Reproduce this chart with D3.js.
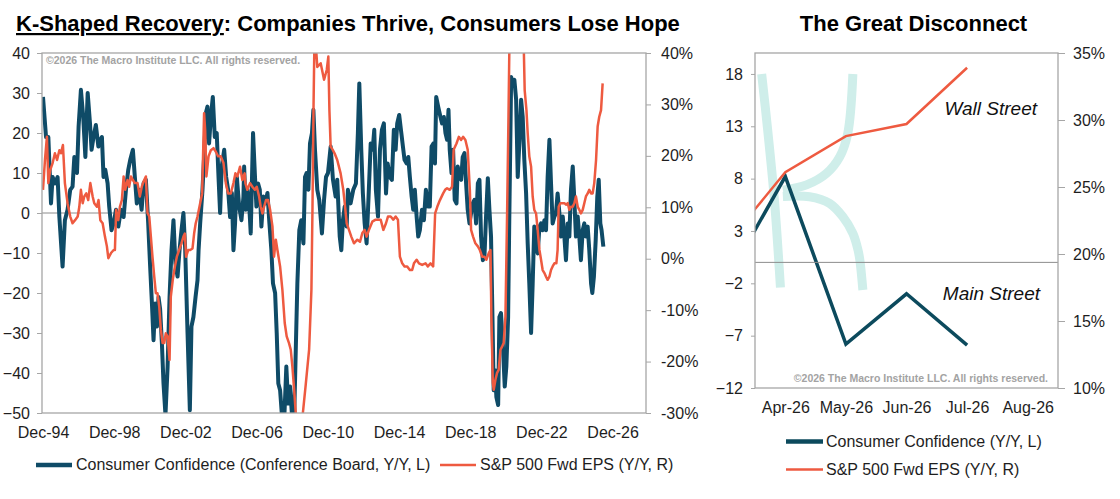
<!DOCTYPE html>
<html lang="en">
<head>
<meta charset="utf-8">
<title>K-Shaped Recovery</title>
<script src="https://d3js.org/d3.v7.min.js"></script>
<style>
  body { margin: 0; background: #fff; }
  svg text { font-family: "Liberation Sans", Arial, sans-serif; }
</style>
</head>
<body>
<div id="chart"></div>
<script>
"use strict"

// ---- left chart: decimal year, value ----
var ccPoints = [
  [1994.92,29],[1995.09,19],[1995.22,19],[1995.37,2.4],[1995.46,9],[1995.59,7.4],[1995.74,9],[1995.84,-1],
  [1996.02,-13.4],[1996.15,-1.8],[1996.3,0.8],[1996.45,5.8],[1996.58,6.6],[1996.68,14],[1996.83,10],[1996.92,21.6],
  [1997.05,30.8],[1997.18,24],[1997.3,14],[1997.43,30],[1997.56,22.4],[1997.65,15.8],[1997.76,19],[1997.89,22],
  [1998.03,16.6],[1998.14,18.3],[1998.23,19],[1998.32,9],[1998.42,10.8],[1998.55,7.4],[1998.64,1.6],[1998.77,-4.3],
  [1998.89,-2.6],[1999.02,0.8],[1999.15,-3.4],[1999.3,0.8],[1999.45,-1],[1999.58,5.8],[1999.71,10.8],[1999.82,13.3],
  [1999.97,15.8],[2000.08,9],[2000.19,2.4],[2000.32,5.8],[2000.46,0.8],[2000.57,7.4],[2000.7,8.3],[2000.83,-2.6],
  [2000.94,-13.4],[2001.04,-22.6],[2001.13,-31.8],[2001.22,-22.6],[2001.32,-28.4],[2001.41,-21],[2001.5,-24],[2001.6,-32.6],
  [2001.69,-42.6],[2001.8,-50.5],[2001.92,-38.4],[2002.03,-21],[2002.14,-9.3],[2002.25,-1.8],[2002.36,-12.6],[2002.48,-15.9],
  [2002.59,-9.3],[2002.7,-4.3],[2002.81,0],[2002.91,-9.3],[2003.04,-30],[2003.17,-49.3],[2003.26,-28.4],[2003.37,-26],
  [2003.49,-21],[2003.6,-16.8],[2003.66,-9.3],[2003.75,-2.6],[2003.88,5.8],[2003.97,14],[2004.07,25],[2004.16,26.6],
  [2004.25,17.4],[2004.35,24],[2004.46,29],[2004.57,19],[2004.68,20],[2004.78,9],[2004.87,0],[2004.96,11.6],
  [2005.1,15.8],[2005.21,9],[2005.32,5.8],[2005.43,-1],[2005.53,5],[2005.62,-9.3],[2005.71,-2.6],[2005.81,9],
  [2005.94,1.6],[2006.07,-1.8],[2006.18,4],[2006.22,11.6],[2006.31,0.8],[2006.4,5.8],[2006.5,2.4],[2006.59,-5.1],
  [2006.72,20],[2006.82,10],[2006.91,1.6],[2007.0,7.4],[2007.1,5.8],[2007.19,-3.4],[2007.3,4.1],[2007.41,2.4],
  [2007.53,5],[2007.64,-2.6],[2007.75,-9.3],[2007.84,-17.6],[2007.96,-20],[2008.05,-30],[2008.14,-42.6],[2008.24,-44.3],
  [2008.35,-51],[2008.46,-53],[2008.59,-38.4],[2008.69,-47.6],[2008.8,-43.4],[2008.93,-52],[2009.02,-53],[2009.12,-34.3],
  [2009.21,-17.6],[2009.32,-4.3],[2009.43,-1.8],[2009.55,-7.6],[2009.64,9],[2009.73,10],[2009.83,5.8],[2009.92,17.4],
  [2010.03,20],[2010.11,25.8],[2010.2,15.8],[2010.33,5.8],[2010.44,3.3],[2010.59,-5.1],[2010.71,3.3],[2010.82,9],
  [2010.93,10],[2011.08,16.6],[2011.21,8.3],[2011.36,4.1],[2011.45,8.3],[2011.59,-5.9],[2011.68,-9.3],[2011.77,-1.8],
  [2011.87,1.6],[2011.98,-3.4],[2012.05,5.8],[2012.2,2.4],[2012.35,5.8],[2012.5,7.4],[2012.61,20],[2012.69,32.4],
  [2012.8,15.8],[2012.89,4.9],[2012.99,-2.6],[2013.1,-7.6],[2013.21,4.1],[2013.33,17.4],[2013.44,15.8],[2013.53,20.8],
  [2013.62,5.8],[2013.74,-0.9],[2013.85,15.8],[2013.96,20.8],[2014.07,22.4],[2014.19,4.9],[2014.28,12.4],[2014.41,9],
  [2014.52,8.3],[2014.63,20.8],[2014.73,15.8],[2014.82,22.4],[2014.93,24.5],[2015.05,20],[2015.14,16.6],[2015.23,13.3],
  [2015.35,12.4],[2015.44,14],[2015.53,9],[2015.63,4.1],[2015.72,0.8],[2015.81,5.8],[2015.91,-0.9],[2016.0,-5.9],
  [2016.09,-4.3],[2016.21,0.8],[2016.32,-1.8],[2016.43,5.8],[2016.54,1.6],[2016.65,1.6],[2016.75,16.6],[2016.86,17.4],
  [2016.94,12.4],[2017.01,29],[2017.12,26.6],[2017.25,24],[2017.34,22.4],[2017.44,24],[2017.53,20],[2017.62,18.3],
  [2017.7,25.8],[2017.77,15.8],[2017.87,10],[2017.96,15.8],[2018.05,3.3],[2018.15,2.4],[2018.22,11.6],[2018.32,9],
  [2018.41,8.3],[2018.5,14],[2018.6,15],[2018.69,7.4],[2018.78,0.8],[2018.88,-2.6],[2018.97,0],[2019.06,2.4],
  [2019.16,3.3],[2019.25,-2.6],[2019.35,7.4],[2019.44,8.3],[2019.53,-5.9],[2019.63,-11.8],[2019.72,-10.9],[2019.81,-0.9],
  [2019.91,8.7],[2020.0,0.8],[2020.09,-5.9],[2020.17,-26],[2020.24,-44.3],[2020.32,-39.3],[2020.39,-46],[2020.49,-48],
  [2020.56,-26],[2020.65,-25],[2020.75,-32.6],[2020.86,-43.4],[2020.95,-38.4],[2021.05,-26],[2021.12,0],[2021.22,34],
  [2021.31,32.4],[2021.4,33.3],[2021.5,28.3],[2021.59,9],[2021.68,17.4],[2021.78,28.3],[2021.87,24],[2021.96,13.3],
  [2022.06,4.9],[2022.15,-7.6],[2022.24,-17.6],[2022.34,-30],[2022.43,-17.6],[2022.52,-3.4],[2022.62,-5.9],[2022.71,-10.1],
  [2022.81,-3.4],[2022.9,-2.6],[2022.99,-4.3],[2023.09,-1.8],[2023.18,-4.3],[2023.27,9],[2023.37,18.3],[2023.46,7.4],
  [2023.55,-2.6],[2023.65,-0.9],[2023.74,0],[2023.83,4.9],[2023.93,0],[2024.02,-5.9],[2024.12,-0.9],[2024.21,-5.9],
  [2024.3,-11.8],[2024.4,-2.6],[2024.49,-5.9],[2024.58,5.8],[2024.68,11.6],[2024.77,3.3],[2024.86,-5.9],[2024.96,-0.9],
  [2025.05,-5.9],[2025.14,-11.8],[2025.24,-4.3],[2025.33,-2.6],[2025.42,-5.9],[2025.52,-3.4],[2025.61,-9.3],[2025.71,-17.6],
  [2025.78,-20],[2025.87,-15.9],[2025.97,-6.8],[2026.06,4.1],[2026.14,8.3],[2026.23,-2.6],[2026.3,-4.3],[2026.4,-8.4]
];

var epsPoints = [
  [1994.92,13.4],[1995.03,19.2],[1995.14,23.7],[1995.22,14.7],[1995.33,17.3],[1995.46,18.6],[1995.59,20.5],[1995.71,19.2],
  [1995.84,21.1],[1995.93,20.5],[1996.04,22.1],[1996.15,14.7],[1996.3,10.8],[1996.45,8.2],[1996.58,6.9],[1996.72,7.5],
  [1996.87,8.2],[1996.96,10.1],[1997.05,13.4],[1997.15,10.8],[1997.24,12.1],[1997.35,12.7],[1997.46,11.4],[1997.58,14.7],
  [1997.71,12.1],[1997.8,10.8],[1997.95,10.1],[1998.04,11.4],[1998.14,7.5],[1998.27,6.9],[1998.4,4.3],[1998.51,2.4],
  [1998.59,0.1],[1998.74,1.1],[1998.89,1.7],[1998.96,1.7],[1999.03,9.5],[1999.15,7.5],[1999.24,10.1],[1999.35,11.4],
  [1999.45,16],[1999.54,13.4],[1999.67,15.3],[1999.76,14],[1999.86,16],[1999.97,15.3],[2000.08,14.7],[2000.23,14.7],
  [2000.36,12.1],[2000.47,14],[2000.57,15],[2000.7,16],[2000.79,8.9],[2000.89,8.2],[2000.98,4.3],[2001.07,0.4],
  [2001.17,-3.5],[2001.26,-6.7],[2001.35,-6.7],[2001.45,-9.3],[2001.54,-13.8],[2001.64,-16.4],[2001.73,-16.4],[2001.82,-14.5],
  [2001.92,-15.1],[2002.03,-19.7],[2002.1,-7.4],[2002.21,-4.1],[2002.33,-1.5],[2002.44,0.4],[2002.57,1.7],[2002.7,3],
  [2002.81,4.3],[2002.89,4.9],[2002.96,0.4],[2003.08,1.7],[2003.19,1.7],[2003.32,2],[2003.41,4.9],[2003.5,6.9],
  [2003.6,8.2],[2003.75,10.8],[2003.86,12.7],[2003.97,28.3],[2004.03,25],[2004.1,16],[2004.22,19.9],[2004.35,21.1],
  [2004.5,21.5],[2004.63,20.8],[2004.76,19.9],[2004.91,19.9],[2005.06,18.6],[2005.19,14.7],[2005.32,12.7],[2005.47,12.7],
  [2005.62,14.7],[2005.73,16.6],[2005.84,16],[2005.99,17.9],[2006.12,15.3],[2006.25,16.6],[2006.29,14.7],[2006.4,13.4],
  [2006.55,14.7],[2006.68,14],[2006.82,13.4],[2006.93,14],[2007.06,12.1],[2007.15,10.1],[2007.25,8.8],[2007.34,10.1],
  [2007.45,11.4],[2007.56,11.4],[2007.68,9.5],[2007.81,6.3],[2007.9,0.4],[2008.0,3.7],[2008.09,1.7],[2008.24,-1.5],
  [2008.37,-6.1],[2008.5,-12.5],[2008.61,-15.1],[2008.74,-16.4],[2008.84,-17.7],[2008.93,-21],[2009.02,-25],[2009.12,-30],
  [2009.3,-36],[2009.49,-31],[2009.68,-24.5],[2009.87,-17.7],[2010.0,-6],[2010.06,10],[2010.12,30],[2010.18,45],
  [2010.33,37.3],[2010.52,38],[2010.71,34.8],[2010.86,36.7],[2010.95,39.3],[2011.01,28.9],[2011.08,21.8],[2011.19,21.2],
  [2011.3,20.5],[2011.45,19.2],[2011.64,16.6],[2011.79,13.4],[2011.87,10.8],[2011.98,6.9],[2012.11,5.6],[2012.24,4.3],
  [2012.39,3],[2012.58,3.7],[2012.73,3.3],[2012.86,5],[2012.99,5.6],[2013.1,4.3],[2013.23,5.6],[2013.42,7.2],
  [2013.61,7.6],[2013.89,7.6],[2014.04,5.6],[2014.19,6.9],[2014.3,8.2],[2014.45,8.2],[2014.6,7.6],[2014.73,8.2],
  [2014.86,7.6],[2014.97,0.4],[2015.1,-0.9],[2015.23,-1.5],[2015.38,-1.5],[2015.53,-2.2],[2015.66,-2.2],[2015.76,-0.9],
  [2015.91,-0.2],[2016.04,-0.9],[2016.22,-1.2],[2016.41,-0.9],[2016.54,-1.5],[2016.69,-0.9],[2016.84,-1.5],[2016.95,8.8],
  [2017.07,10.1],[2017.22,11.4],[2017.4,12.7],[2017.51,13.4],[2017.62,13.7],[2017.77,13.4],[2017.9,14],[2017.99,21.2],
  [2018.15,22.4],[2018.28,23.7],[2018.41,23.1],[2018.52,23.7],[2018.65,23.1],[2018.78,21.2],[2018.9,13.4],[2018.97,5.6],
  [2019.08,4.3],[2019.21,3],[2019.35,2.4],[2019.46,1.7],[2019.59,0.4],[2019.72,0.4],[2019.83,-0.2],[2019.96,1.1],
  [2020.06,1.7],[2020.11,-11.2],[2020.19,-24.2],[2020.24,-25.5],[2020.34,-23.5],[2020.43,-22.2],[2020.52,-21.6],[2020.62,-17.7],
  [2020.71,-17.1],[2020.8,-16.4],[2020.9,-11.2],[2020.99,8.2],[2021.07,27.6],[2021.12,41],[2021.3,60],[2021.6,60],
  [2021.93,41],[2021.98,32.8],[2022.08,28.9],[2022.15,24.4],[2022.24,19.9],[2022.34,17.9],[2022.43,12.1],[2022.52,9.5],
  [2022.62,8.8],[2022.71,5.6],[2022.81,1.7],[2022.9,-0.2],[2022.99,-2.2],[2023.09,-2.8],[2023.18,-3.5],[2023.27,-4.1],
  [2023.37,-3.5],[2023.46,-2.2],[2023.55,-1.5],[2023.65,-0.9],[2023.76,-0.9],[2023.83,1.7],[2023.89,10.1],[2023.98,10.8],
  [2024.12,10.8],[2024.21,10.8],[2024.3,10.5],[2024.4,10.8],[2024.49,9.5],[2024.58,10.1],[2024.68,10.1],[2024.77,10.8],
  [2024.86,12.1],[2024.96,10.1],[2025.05,9.5],[2025.14,8.8],[2025.24,9.5],[2025.33,10.8],[2025.42,12.1],[2025.52,12.7],
  [2025.61,13.4],[2025.71,12.7],[2025.8,12.7],[2025.89,14.7],[2025.99,19.2],[2026.08,25.7],[2026.17,27.6],[2026.27,28.9],
  [2026.36,34.1]
];

var lcTickYears = [1994.92, 1998.92, 2002.92, 2006.92, 2010.92, 2014.92, 2018.92, 2022.92, 2026.92];
var lcTickLabels = ["Dec-94", "Dec-98", "Dec-02", "Dec-06", "Dec-10", "Dec-14", "Dec-18", "Dec-22", "Dec-26"];
var lcLeftTicks = [-50, -40, -30, -20, -10, 0, 10, 20, 30, 40];
var lcRightTicks = [-30, -20, -10, 0, 10, 20, 30, 40];

// ---- right chart ----
var rcMonths = ["Mar-26", "Apr-26", "May-26", "Jun-26", "Jul-26", "Aug-26"];
var rcTickLabels = ["Apr-26", "May-26", "Jun-26", "Jul-26", "Aug-26"];
var rcConfidence = [-2.0, 8.2, -7.8, -3.0, -7.9, null];
var rcEps = [20.6, 26.1, 28.8, 29.7, 33.9, null];
var rcLeftTicks = [-12, -7, -2, 3, 8, 13, 18];
var rcRightTicks = [10, 15, 20, 25, 30, 35];

// the pale "K" behind the right chart, in (month index, left value)
var kStem = [[0.61, 18], [0.71, 12.6], [0.82, 6], [0.92, -2.4]];
var kArmUp = [[2.115, 18], [2.03, 12.3], [1.9, 10.1], [1.68, 8.5], [1.35, 7.4], [0.96, 6.9]];
var kArmDown = [[0.96, 6.3], [1.4, 6.27], [1.73, 5.64], [1.95, 4.36], [2.115, 2.77], [2.2, 1.18], [2.23, 0.23], [2.28, -2.64]];

var blue = "#0f4b67", blueR = "#0c4a5d", red = "#ee5a40", ink = "#1e1e1e", frame = "#a6a6a6";

var svg = d3.select('#chart')
  .append('svg')
    .attr('width', 1120)
    .attr('height', 499);

function styleAxis(g) {
  g.select('.domain').remove();
  g.selectAll('line').attr('stroke', frame);
  g.selectAll('text')
    .attr('fill', ink)
    .style('font-size', '16px')
    .style('font-family', '"Liberation Sans", Arial, sans-serif');
}

// ================= left chart =================
var L = {left: 42, right: 646, top: 53, bottom: 413};

var x = d3.scaleLinear().domain([1994.864, 2028.796]).range([L.left, L.right]);
var yL = d3.scaleLinear().domain([-50, 40]).range([L.bottom, L.top]);
var yR = d3.scaleLinear().domain([-30, 40]).range([L.bottom, L.top]);

svg.append('text')
  .attr('x', 16).attr('y', 31)
  .attr('font-size', 22).attr('font-weight', 'bold').attr('fill', '#000')
  .call(t => {
    t.append('tspan').style('text-decoration', 'underline').text('K-Shaped Recovery');
    t.append('tspan').text(': Companies Thrive, Consumers Lose Hope');
  });

svg.append('clipPath').attr('id', 'clipL')
  .append('rect')
    .attr('x', L.left).attr('y', L.top)
    .attr('width', L.right - L.left).attr('height', L.bottom - L.top);

svg.append('line')
  .attr('x1', L.left).attr('x2', L.right)
  .attr('y1', yL(0)).attr('y2', yL(0))
  .attr('stroke', '#8c8c8c').attr('stroke-width', 1);

svg.append('g')
  .attr('transform', 'translate(' + L.left + ',0)')
  .call(d3.axisLeft(yL).tickValues(lcLeftTicks).tickSize(5).tickPadding(7))
  .call(styleAxis);

svg.append('g')
  .attr('transform', 'translate(' + L.right + ',0)')
  .call(d3.axisRight(yR).tickValues(lcRightTicks).tickSize(5).tickPadding(10).tickFormat(d => d + '%'))
  .call(styleAxis);

svg.append('g')
  .attr('transform', 'translate(0,' + L.bottom + ')')
  .call(d3.axisBottom(x).tickValues(lcTickYears).tickSize(0).tickPadding(14)
        .tickFormat((d, i) => lcTickLabels[i]))
  .call(styleAxis);

var plotL = svg.append('g').attr('clip-path', 'url(#clipL)');

plotL.append('path')
  .datum(ccPoints)
  .attr('fill', 'none')
  .attr('stroke', blue)
  .attr('stroke-width', 4)
  .attr('stroke-linejoin', 'round')
  .attr('d', d3.line().x(d => x(d[0])).y(d => yL(d[1])));

plotL.append('path')
  .datum(epsPoints)
  .attr('fill', 'none')
  .attr('stroke', red)
  .attr('stroke-width', 2.5)
  .attr('stroke-linejoin', 'round')
  .attr('d', d3.line().x(d => x(d[0])).y(d => yR(d[1])));

svg.append('rect')
  .attr('x', L.left).attr('y', L.top)
  .attr('width', L.right - L.left).attr('height', L.bottom - L.top)
  .attr('fill', 'none').attr('stroke', frame).attr('stroke-width', 1.3);

svg.append('text')
  .attr('x', L.left + 4).attr('y', L.top + 11)
  .attr('font-size', 10.5).attr('font-weight', 'bold').attr('fill', '#a3a3a3')
  .text('\u00a92026 The Macro Institute LLC. All rights reserved.');

// legend
var legL = svg.append('g').attr('font-size', 16).attr('fill', ink);
legL.append('line').attr('x1', 36).attr('x2', 72).attr('y1', 465).attr('y2', 465)
  .attr('stroke', blue).attr('stroke-width', 4.5);
legL.append('text').attr('x', 76).attr('y', 470)
  .text('Consumer Confidence (Conference Board, Y/Y, L)');
legL.append('line').attr('x1', 440).attr('x2', 476).attr('y1', 465).attr('y2', 465)
  .attr('stroke', red).attr('stroke-width', 2.5);
legL.append('text').attr('x', 480).attr('y', 470)
  .text('S&P 500 Fwd EPS (Y/Y, R)');

// ================= right chart =================
var R = {left: 755, right: 1058, top: 53, bottom: 388};
var step = (R.right - R.left) / rcTickLabels.length;

var xM = d3.scalePoint().domain(rcMonths).range([R.left - step / 2, R.right - step / 2]);
var xI = d3.scaleLinear().domain([0, rcMonths.length - 1]).range(xM.range());
var yRL = d3.scaleLinear().domain([-12, 20]).range([R.bottom, R.top]);
var yRR = d3.scaleLinear().domain([10, 35]).range([R.bottom, R.top]);

svg.append('text')
  .attr('x', (R.left + R.right) / 2 + 7).attr('y', 31)
  .attr('text-anchor', 'middle')
  .attr('font-size', 22).attr('font-weight', 'bold').attr('fill', '#000')
  .text('The Great Disconnect');

svg.append('clipPath').attr('id', 'clipR')
  .append('rect')
    .attr('x', R.left).attr('y', R.top)
    .attr('width', R.right - R.left).attr('height', R.bottom - R.top);

var plotR = svg.append('g').attr('clip-path', 'url(#clipR)');

var kLine = d3.line().curve(d3.curveCatmullRom).x(d => xI(d[0])).y(d => yRL(d[1]));
[kStem, kArmUp, kArmDown].forEach(function(k) {
  plotR.append('path')
    .attr('d', kLine(k))
    .attr('fill', 'none')
    .attr('stroke', '#cfeeea')
    .attr('stroke-width', 9);
});

svg.append('line')
  .attr('x1', R.left).attr('x2', R.right)
  .attr('y1', yRL(0)).attr('y2', yRL(0))
  .attr('stroke', '#8c8c8c').attr('stroke-width', 1);

svg.append('g')
  .attr('transform', 'translate(' + R.left + ',0)')
  .call(d3.axisLeft(yRL).tickValues(rcLeftTicks).tickSize(4).tickPadding(8))
  .call(styleAxis);

svg.append('g')
  .attr('transform', 'translate(' + R.right + ',0)')
  .call(d3.axisRight(yRR).tickValues(rcRightTicks).tickSize(7).tickPadding(8).tickFormat(d => d + '%'))
  .call(styleAxis);

svg.append('g')
  .attr('transform', 'translate(0,' + R.bottom + ')')
  .call(d3.axisBottom(xM).tickValues(rcTickLabels).tickSize(0).tickPadding(14))
  .call(styleAxis);

plotR.append('path')
  .datum(rcConfidence)
  .attr('fill', 'none')
  .attr('stroke', blueR)
  .attr('stroke-width', 3.5)
  .attr('d', d3.line().defined(d => d != null).x((d, i) => xM(rcMonths[i])).y(d => yRL(d)));

plotR.append('path')
  .datum(rcEps)
  .attr('fill', 'none')
  .attr('stroke', red)
  .attr('stroke-width', 2.5)
  .attr('d', d3.line().defined(d => d != null).x((d, i) => xM(rcMonths[i])).y(d => yRR(d)));

svg.append('rect')
  .attr('x', R.left).attr('y', R.top)
  .attr('width', R.right - R.left).attr('height', R.bottom - R.top)
  .attr('fill', 'none').attr('stroke', frame).attr('stroke-width', 1.3);

svg.append('text')
  .attr('x', 1037).attr('y', 115).attr('text-anchor', 'end')
  .attr('font-size', 19).attr('font-style', 'italic').attr('fill', '#111')
  .text('Wall Street');

svg.append('text')
  .attr('x', 1040).attr('y', 300).attr('text-anchor', 'end')
  .attr('font-size', 19).attr('font-style', 'italic').attr('fill', '#111')
  .text('Main Street');

svg.append('text')
  .attr('x', R.right - 10).attr('y', R.bottom - 6).attr('text-anchor', 'end')
  .attr('font-size', 10.5).attr('font-weight', 'bold').attr('fill', '#a3a3a3')
  .text('\u00a92026 The Macro Institute LLC. All rights reserved.');

var legR = svg.append('g').attr('font-size', 16).attr('fill', ink);
legR.append('line').attr('x1', 786).attr('x2', 823).attr('y1', 441.5).attr('y2', 441.5)
  .attr('stroke', blueR).attr('stroke-width', 4.5);
legR.append('text').attr('x', 826).attr('y', 447)
  .text('Consumer Confidence (Y/Y, L)');
legR.append('line').attr('x1', 786).attr('x2', 823).attr('y1', 469.5).attr('y2', 469.5)
  .attr('stroke', red).attr('stroke-width', 2.5);
legR.append('text').attr('x', 826).attr('y', 475)
  .text('S&P 500 Fwd EPS (Y/Y, R)');
</script>
</body>
</html>
